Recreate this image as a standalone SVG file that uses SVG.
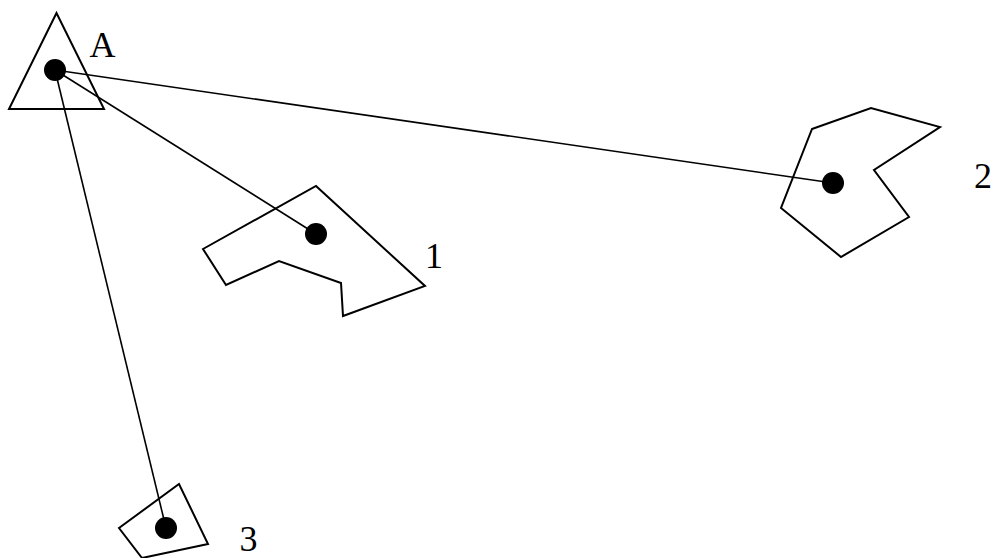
<svg xmlns="http://www.w3.org/2000/svg" width="993" height="558" viewBox="0 0 993 558">
<style>
.sh{fill:none;stroke:#000;stroke-width:2;stroke-linejoin:miter}
.ln{stroke:#000;stroke-width:1.6}
.dot{fill:#000}
.lbl{font-family:"Liberation Serif",serif;font-size:36px;fill:#000}
</style>
<rect width="993" height="558" fill="#fff"/>
<g id="connectors">
<line class="ln" x1="55" y1="70" x2="833" y2="183"/>
<line class="ln" x1="55" y1="70" x2="316" y2="234"/>
<line class="ln" x1="55" y1="70" x2="166" y2="528"/>
</g>
<g id="nodeA">
<polygon class="sh" points="56.5,13 9,109 104,109"/>
<circle class="dot" cx="55" cy="70" r="11"/>
<text class="lbl" x="89.5" y="57">A</text>
</g>
<g id="node1">
<polygon class="sh" points="203,249 316,186 425,286 343,316 341,283 279,261 226,285"/>
<circle class="dot" cx="316" cy="234" r="11"/>
<text class="lbl" x="425" y="268">1</text>
</g>
<g id="node2">
<polygon class="sh" points="812,129 871,108 940,127 874,170 909,217 841,257 781,208"/>
<circle class="dot" cx="833" cy="183" r="11"/>
<text class="lbl" x="974" y="188">2</text>
</g>
<g id="node3">
<polygon class="sh" points="119,528 179,484 208,544 142,558"/>
<circle class="dot" cx="166" cy="528" r="11"/>
<text class="lbl" x="239.5" y="550.5">3</text>
</g>
</svg>
